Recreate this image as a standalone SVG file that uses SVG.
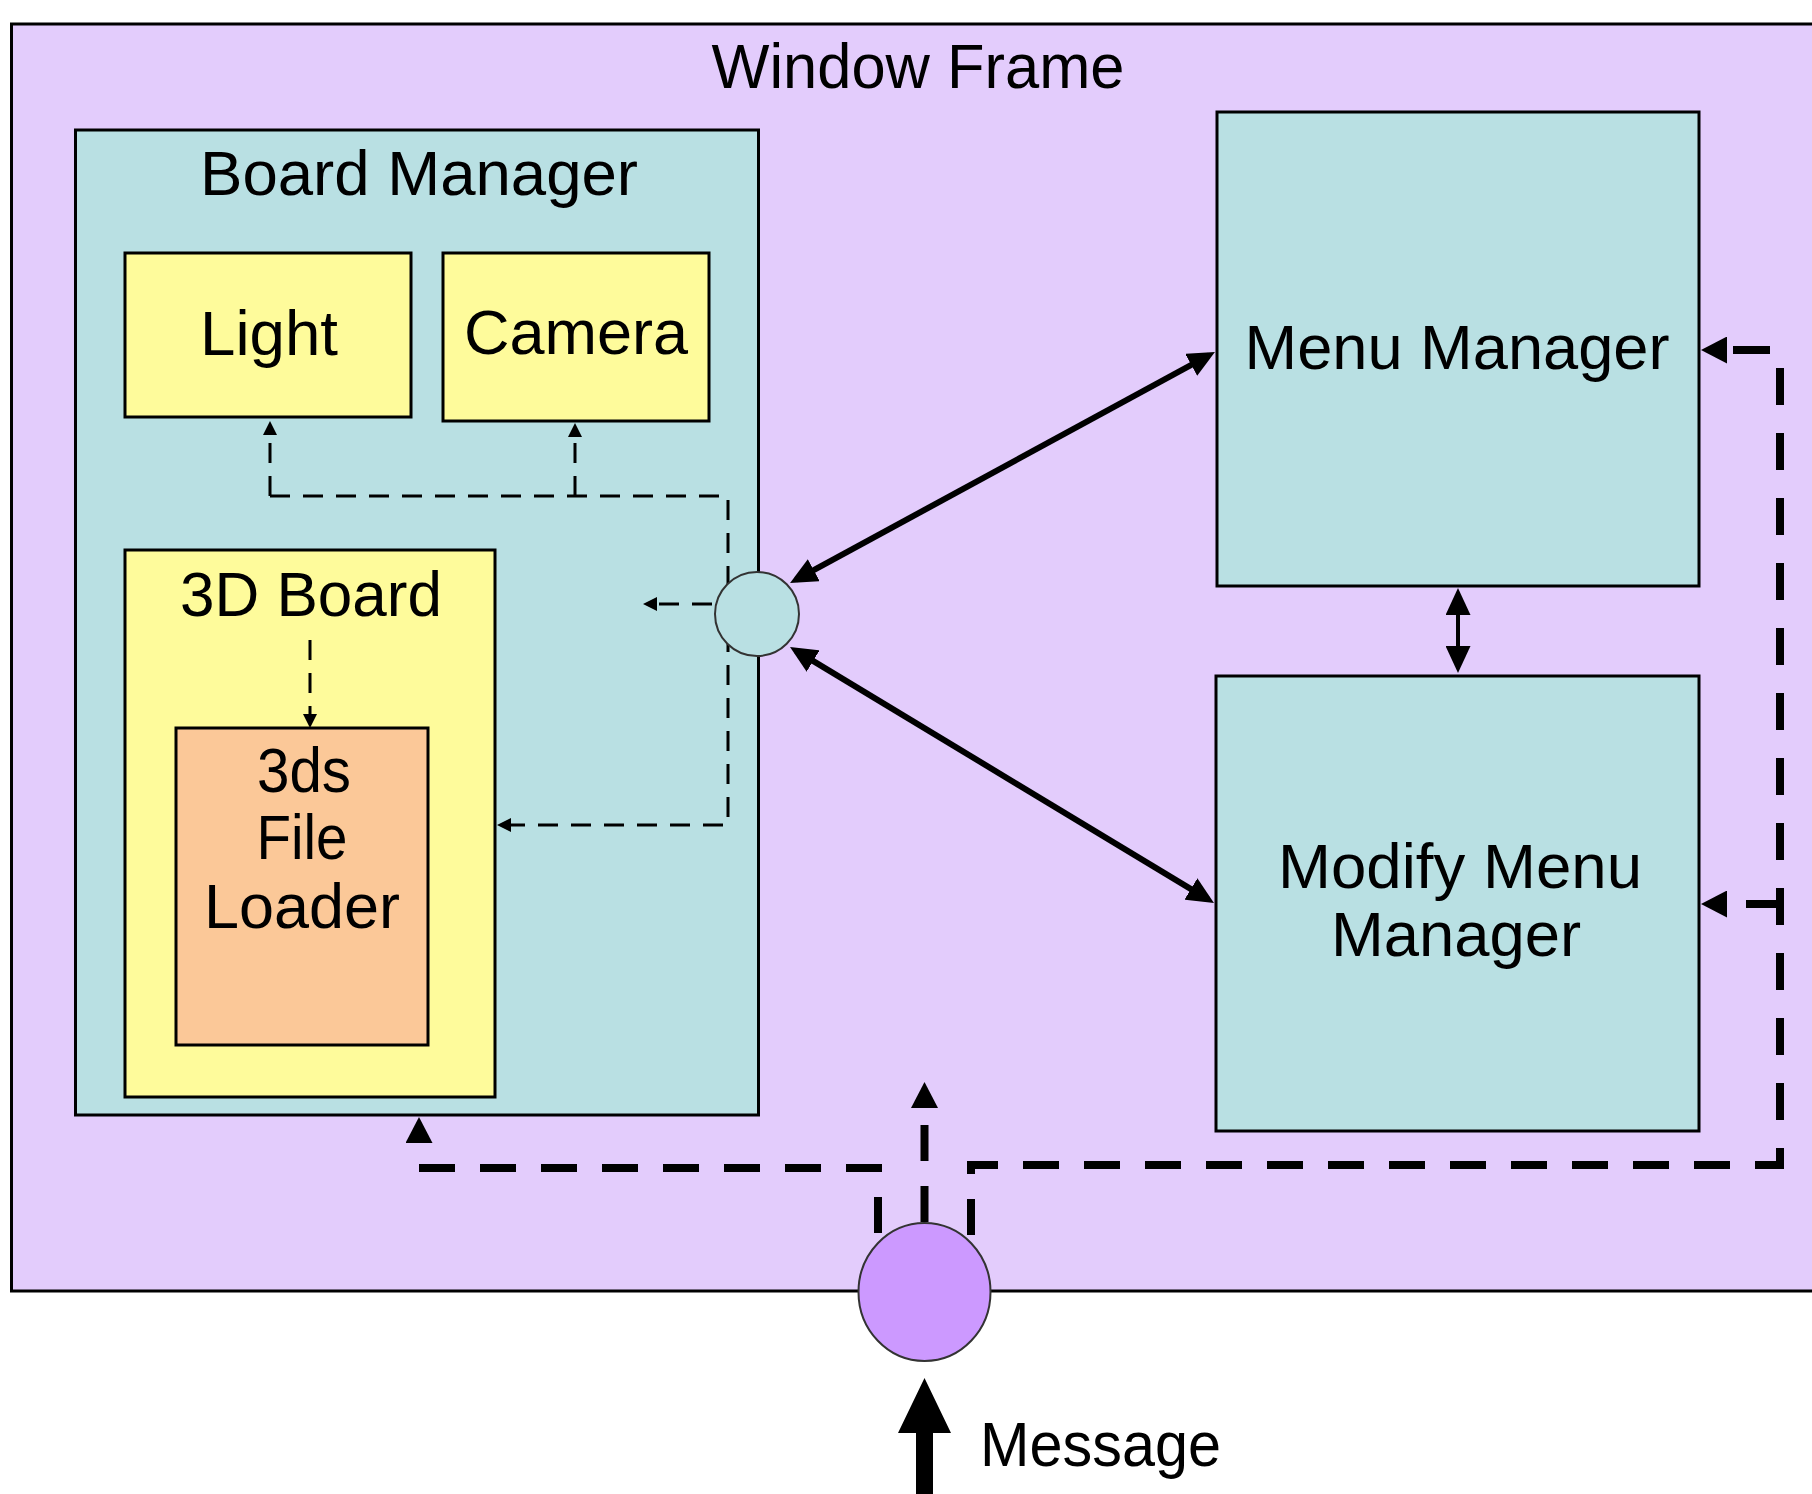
<svg xmlns="http://www.w3.org/2000/svg" width="1812" height="1494" viewBox="0 0 1812 1494">
<style>
.box{stroke:#000;stroke-width:3}
.frame{fill:#E3CCFC}
.teal{fill:#B9E0E3}
.yel{fill:#FEFB9B}
.org{fill:#FBC898}
.lbl{font-family:"Liberation Sans",Arial,sans-serif;font-size:63px;fill:#000;text-anchor:middle}
.thin{fill:none;stroke:#000;stroke-width:3;stroke-dasharray:20 13}
.thick{fill:none;stroke:#000;stroke-width:8;stroke-dasharray:36 25}
.solid{fill:none;stroke:#000;stroke-width:6}
</style>
<defs>
<marker id="ahs" viewBox="0 0 14 14" refX="0" refY="7" markerWidth="14" markerHeight="14" markerUnits="userSpaceOnUse" orient="auto"><path d="M0,0 L14,7 L0,14 z" fill="#000"/></marker>
<marker id="ahd" viewBox="0 0 26 27" refX="0" refY="13.5" markerWidth="26" markerHeight="27" markerUnits="userSpaceOnUse" orient="auto"><path d="M0,0 L26,13.5 L0,27 z" fill="#000"/></marker>
<marker id="ah" viewBox="0 0 27 25" refX="20" refY="12.5" markerWidth="27" markerHeight="25" markerUnits="userSpaceOnUse" orient="auto-start-reverse"><path d="M0,0 L27,12.5 L0,25 z" fill="#000"/></marker>
</defs>
<rect width="1812" height="1494" fill="#fff"/>
<g id="window-frame">
<rect class="frame box" x="11.5" y="24" width="1830" height="1267"/>
<text class="lbl" x="918" y="88" textLength="413" lengthAdjust="spacingAndGlyphs">Window Frame</text>
</g>
<g id="board-manager">
<rect class="teal box" x="75.5" y="130" width="683" height="985"/>
<text class="lbl" x="419" y="195" textLength="438" lengthAdjust="spacingAndGlyphs">Board Manager</text>
</g>
<g id="light">
<rect class="yel box" x="125" y="253" width="286" height="164"/>
<text class="lbl" x="269" y="355" textLength="138" lengthAdjust="spacingAndGlyphs">Light</text>
</g>
<g id="camera">
<rect class="yel box" x="443" y="253" width="266" height="168"/>
<text class="lbl" x="576" y="354" textLength="224" lengthAdjust="spacingAndGlyphs">Camera</text>
</g>
<g id="board-3d">
<rect class="yel box" x="125" y="550" width="370" height="547"/>
<text class="lbl" x="311" y="616" textLength="262" lengthAdjust="spacingAndGlyphs">3D Board</text>
</g>
<g id="file-loader">
<rect class="org box" x="176" y="728" width="252" height="317"/>
<text class="lbl" x="304" y="792" textLength="94" lengthAdjust="spacingAndGlyphs">3ds</text>
<text class="lbl" x="302" y="859" textLength="91" lengthAdjust="spacingAndGlyphs">File</text>
<text class="lbl" x="302" y="928" textLength="196" lengthAdjust="spacingAndGlyphs">Loader</text>
</g>
<g id="menu-manager">
<rect class="teal box" x="1217" y="112" width="482" height="474"/>
<text class="lbl" x="1457" y="369" textLength="425" lengthAdjust="spacingAndGlyphs">Menu Manager</text>
</g>
<g id="modify-menu-manager">
<rect class="teal box" x="1216" y="676" width="483" height="455"/>
<text class="lbl" x="1460" y="888" textLength="364" lengthAdjust="spacingAndGlyphs">Modify Menu</text>
<text class="lbl" x="1456" y="956" textLength="250" lengthAdjust="spacingAndGlyphs">Manager</text>
</g>
<g id="connectors">
<path class="thin" d="M712,604 H657" marker-end="url(#ahs)"/>
<path class="thin" d="M270,496 V435" marker-end="url(#ahs)"/>
<path class="thin" d="M575,496 V437" marker-end="url(#ahs)"/>
<path class="thin" d="M270,496 H728 V825 H511" marker-end="url(#ahs)"/>
<path class="thin" d="M310,640 V714" marker-end="url(#ahs)"/>
<path class="solid" d="M796.2,579.7 L1208.8,355.3" marker-start="url(#ah)" marker-end="url(#ah)"/>
<path class="solid" d="M796,650.6 L1208,899.4" marker-start="url(#ah)" marker-end="url(#ah)"/>
<path class="solid" d="M1458,595 V666" style="stroke-width:4" marker-start="url(#ah)" marker-end="url(#ah)"/>
<path class="thick" d="M878,1243 V1168 H419 V1143" style="stroke-dashoffset:-10" marker-end="url(#ahd)"/>
<path class="thick" d="M924.5,1222 V1108" marker-end="url(#ahd)"/>
<path class="thick" d="M971,1243 V1165 H1780" style="stroke-dashoffset:-8"/>
<path class="thick" d="M1780,1169 V350 H1727" style="stroke-dasharray:37 28;stroke-dashoffset:16" marker-end="url(#ahd)"/>
<path class="thick" d="M1780,904 H1727" style="stroke-dasharray:34 40" marker-end="url(#ahd)"/>
<path d="M916,1494 V1433 H898 L924.5,1378 L951,1433 H933 V1494 z" fill="#000"/>
</g>
<g id="junction">
<circle cx="757" cy="614" r="42" fill="#B9E0E3" stroke="#333" stroke-width="2"/>
</g>
<g id="message-port">
<ellipse cx="924.5" cy="1292" rx="66" ry="69" fill="#CC99FF" stroke="#333" stroke-width="2"/>
</g>
<g id="message-label">
<text class="lbl" x="1100.5" y="1466" textLength="241" lengthAdjust="spacingAndGlyphs">Message</text>
</g>
</svg>
